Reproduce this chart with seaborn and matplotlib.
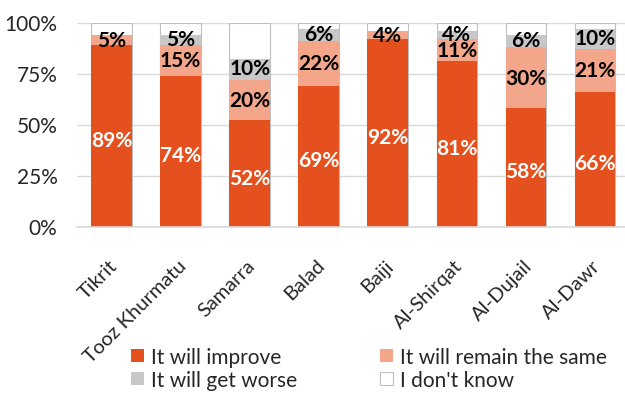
import matplotlib
matplotlib.use("Agg")
import matplotlib.pyplot as plt
import matplotlib.transforms as mtransforms
import seaborn as sns
import numpy as np
import pandas as pd
from matplotlib.patches import Patch

categories = ["Tikrit", "Tooz Khurmatu", "Samarra", "Balad", "Baiji", "Al-Shirqat", "Al-Dujail", "Al-Dawr"]
improve = [89, 74, 52, 69, 92, 81, 58, 66]
same = [5, 15, 20, 22, 4, 11, 30, 21]
worse = [0, 5, 10, 6, 0, 4, 6, 10]
dont_know = [6, 6, 18, 3, 4, 4, 6, 3]
series_names = ["It will improve", "It will remain the same", "It will get worse", "I don't know"]
yticks = [0, 25, 50, 75, 100]

sns.set_theme(style="white")
plt.rcParams['font.family'] = ['Lato', 'DejaVu Sans']

colors = ["#E4511E", "#F4A68A", "#C8C8C8", "#FFFFFF"]

df = pd.DataFrame({"cat": categories, "improve": improve, "same": same,
                   "worse": worse, "dk": dont_know})
df["c1"] = df["improve"]
df["c2"] = df["c1"] + df["same"]
df["c3"] = df["c2"] + df["worse"]
df["c4"] = df["c3"] + df["dk"]

fig = plt.figure(figsize=(6.25, 4.02), dpi=100)
ax = fig.add_axes([77/625, 1 - 227.5/402, 548/625, 204/402])

bw = 0.59
sns.barplot(data=df, x="cat", y="c4", color=colors[3], edgecolor="#BFBFBF",
            linewidth=0.8, width=bw, ax=ax, saturation=1, zorder=2)
sns.barplot(data=df, x="cat", y="c3", color=colors[2], width=bw, ax=ax, saturation=1,
            linewidth=0, zorder=3)
sns.barplot(data=df, x="cat", y="c2", color=colors[1], width=bw, ax=ax, saturation=1,
            linewidth=0, zorder=4)
sns.barplot(data=df, x="cat", y="c1", color=colors[0], width=bw, ax=ax, saturation=1,
            linewidth=0, zorder=5)

ax.set_ylim(0, 100)
ax.set_xlim(-0.5, -0.5 + 548/69.07)
ax.set_yticks(yticks)
ax.set_yticklabels([f"{v}%" for v in yticks], fontsize=15, color="#262626")
ax.set_xlabel("")
ax.set_ylabel("")
for s in ["top", "right", "left"]:
    ax.spines[s].set_visible(False)
ax.spines["bottom"].set_color("#D9D9D9")
ax.spines["bottom"].set_linewidth(1.2)
ax.spines["bottom"].set_zorder(6)
ax.yaxis.grid(True, color="#D9D9D9", linewidth=1.0, zorder=0)
ax.set_axisbelow(True)
ax.tick_params(axis="x", length=0, pad=15.5)
ax.tick_params(axis="y", length=0, pad=14)

ax.set_xticks(range(len(categories)))
ax.set_xticklabels(categories, rotation=45, ha="right", va="top", rotation_mode="anchor",
                   fontsize=14.5, color="#262626")
offset = mtransforms.ScaledTranslation(-3/100, -8/100, fig.dpi_scale_trans)
for lbl in ax.get_xticklabels():
    lbl.set_transform(lbl.get_transform() + offset)

fs = 15
for i in range(len(categories)):
    ax.text(i, improve[i] / 2 - 2, f"{improve[i]}%", ha="center", va="center", color="white",
            fontweight="bold", fontsize=fs, zorder=10)
    if same[i] > 0:
        ax.text(i, improve[i] + same[i] / 2, f"{same[i]}%", ha="center", va="center",
                color="black", fontweight="bold", fontsize=fs, zorder=10)
    if worse[i] > 0:
        ax.text(i, improve[i] + same[i] + worse[i] / 2 + 0.5, f"{worse[i]}%", ha="center",
                va="center", color="black", fontweight="bold", fontsize=fs, zorder=10)

handles = [Patch(facecolor=colors[0], edgecolor="none"),
           Patch(facecolor=colors[2], edgecolor="none"),
           Patch(facecolor=colors[1], edgecolor="none"),
           Patch(facecolor=colors[3], edgecolor="#BFBFBF", linewidth=0.8)]
labels = [series_names[0], series_names[2], series_names[1], series_names[3]]
fig.legend(handles, labels, ncol=2, loc="upper left", bbox_to_anchor=(131/625, 1 - 348/402),
           frameon=False, fontsize=15, handlelength=0.6, handleheight=0.6,
           handletextpad=0.35, columnspacing=4.0, labelspacing=0.15, borderpad=0,
           borderaxespad=0, labelcolor="#262626")

fig.savefig("out.png", dpi=100)
